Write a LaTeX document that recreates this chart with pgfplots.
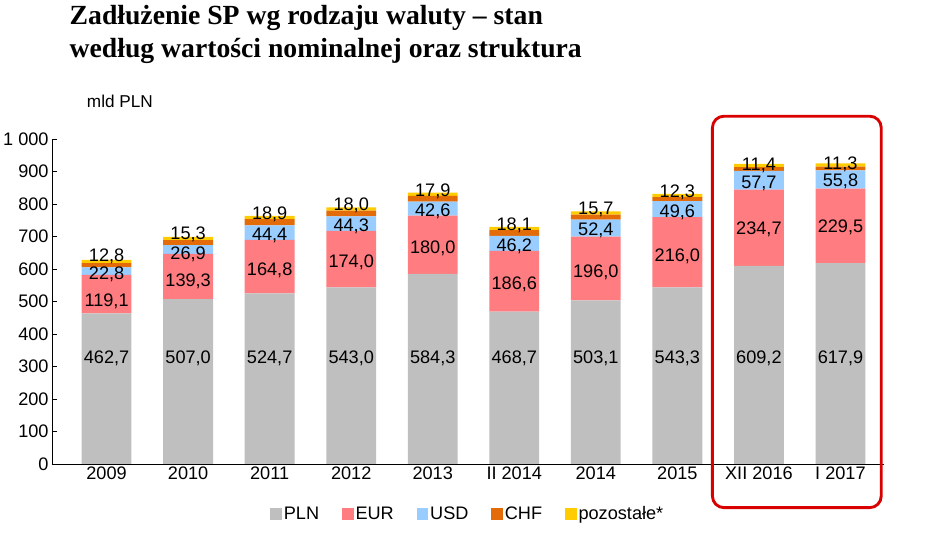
\documentclass[border=0pt]{standalone}
\usepackage{pgfplots}
\pgfplotsset{compat=1.18}
\usepackage{fontspec}
\setmainfont{Liberation Sans}
\newfontfamily\titlefont{Liberation Serif}
\definecolor{cP}{RGB}{191,191,191}
\definecolor{cE}{RGB}{255,124,128}
\definecolor{cU}{RGB}{153,204,255}
\definecolor{cC}{RGB}{227,108,9}
\definecolor{cO}{RGB}{255,204,0}
\begin{document}
\begin{tikzpicture}
\path (0,0) rectangle (945bp,-569bp);
\node[anchor=north west,align=left,font=\titlefont\bfseries\fontsize{29}{35}\selectfont] at (28bp,-2bp) {Zadłużenie SP wg rodzaju waluty – stan\\według wartości nominalnej oraz struktura};
\node[anchor=west,font=\fontsize{18}{20}\selectfont] at (46bp,-106bp) {mld PLN};
\begin{axis}[at={(70bp,-484bp)},anchor=origin,scale only axis,width=868bp,height=339bp,
 ybar stacked, bar width=52bp, xmin=-0.67, xmax=9.53, ymin=0, ymax=1000,
 axis x line*=bottom, axis y line*=left, clip=false,
 xtick={0,...,9}, xticklabels={2009,2010,2011,2012,2013,II 2014,2014,2015,XII 2016,I 2017},
 ytick={0,100,...,1000}, yticklabels={0,100,200,300,400,500,600,700,800,900,1 000},
 tick style={black}, major tick length=5bp, x tick style={draw=none},
 tick label style={font=\fontsize{19}{21}\selectfont},
 /pgf/number format/assume math mode=true,
 legend style={at={(0.5,-0.12)},anchor=north,draw=none,fill=none,legend columns=-1,font=\fontsize{19}{21}\selectfont,/tikz/every even column/.append style={column sep=22bp}},
 legend image code/.code={\fill[#1] (0bp,-6bp) rectangle (12bp,6bp);}]
\addplot[fill=cP,draw=none] coordinates {(0,462.7)(1,507.0)(2,524.7)(3,543.0)(4,584.3)(5,468.7)(6,503.1)(7,543.3)(8,609.2)(9,617.9)};
\addplot[fill=cE,draw=none] coordinates {(0,119.1)(1,139.3)(2,164.8)(3,174.0)(4,180.0)(5,186.6)(6,196.0)(7,216.0)(8,234.7)(9,229.5)};
\addplot[fill=cU,draw=none] coordinates {(0,22.8)(1,26.9)(2,44.4)(3,44.3)(4,42.6)(5,46.2)(6,52.4)(7,49.6)(8,57.7)(9,55.8)};
\addplot[fill=cC,draw=none] coordinates {(0,12.8)(1,15.3)(2,18.9)(3,18.0)(4,17.9)(5,18.1)(6,15.7)(7,12.3)(8,11.4)(9,11.3)};
\addplot[fill=cO,draw=none] coordinates {(0,10)(1,10)(2,10)(3,10)(4,10)(5,10)(6,10)(7,10)(8,10)(9,10)};
\legend{PLN,EUR,USD,CHF,pozostałe*}
\end{axis}
\begin{axis}[at={(70bp,-484bp)},anchor=origin,scale only axis,width=868bp,height=339bp,
 xmin=-0.67, xmax=9.53, ymin=0, ymax=1000, axis lines=none, clip=false]
\addplot[only marks,mark=none,nodes near coords,point meta=explicit symbolic,
 every node near coord/.append style={anchor=center,font=\fontsize{19}{21}\selectfont,inner sep=0pt}] table[meta=l] {
x y l
0 325 462,7
1 325 507,0
2 325 524,7
3 325 543,0
4 325 584,3
5 325 468,7
6 325 503,1
7 325 543,3
8 325 609,2
9 325 617,9
0 500 119,1
1 562 139,3
2 596 164,8
3 620 174,0
4 664 180,0
5 552 186,6
6 590 196,0
7 640 216,0
8 722 234,7
9 728 229,5
0 583 22,8
1 646 26,9
2 702 44,4
3 730 44,3
4 776 42,6
5 670 46,2
6 718 52,4
7 775 49,6
8 863 57,7
9 868 55,8
0 638 12,8
1 706 15,3
2 768 18,9
3 795 18,0
4 840 17,9
5 735 18,1
6 782 15,7
7 836 12,3
8 920 11,4
9 922 11,3
};
\draw[red!85!black,line width=3bp,rounded corners=12bp] (axis cs:7.43,-135) rectangle (axis cs:9.5,1070);
\end{axis}
\end{tikzpicture}
\end{document}
